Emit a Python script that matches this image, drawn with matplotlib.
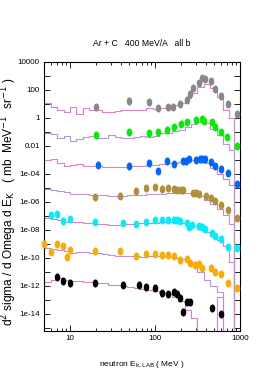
import numpy as np
import matplotlib
matplotlib.use('Agg')
import matplotlib.pyplot as plt
from matplotlib import font_manager
from matplotlib.markers import MarkerStyle
from matplotlib.transforms import Affine2D
from matplotlib.ticker import FixedLocator, NullFormatter, FuncFormatter

# histogram bin edges (MeV), shared by all model curves
edges = [4.5, 5.96, 7.08, 8.41, 10.0, 11.9, 14.1, 16.8, 20.0, 23.7, 28.2, 33.5,
         39.8, 47.3, 56.2, 66.8, 79.4, 94.4, 112, 133, 158, 188, 224, 266, 316,
         376, 447, 531, 631, 750, 860]

# data points (energy MeV, cross section)
gray_e = [20, 50, 85, 109, 141, 164, 199, 236, 258, 278, 330, 357, 391, 459, 508, 597, 716, 930]
gray_y = [6.4, 16, 13, 5.5, 5.8, 5.8, 10.5, 19, 49, 131, 300, 690, 610, 440, 118, 35, 9.5, 2.0]
gray_hist = [10.9, 6.6, 3.7, 2.9, 6.1, 1.9, 4.8, 3.7, 3.7, 2.5, 2.5, 3.2, 3.7, 4.0, 3.7,
             4.0, 4.8, 4.4, 5.2, 6.1, 7.8, 11.8, 27, 61, 151, 268, 139, 32, 3.7, 1.0]

green_e = [20, 50, 84, 109, 140, 167, 200, 236, 304, 354, 377, 464, 508, 598, 709, 914]
green_y = [0.061, 0.10, 0.089, 0.10, 0.128, 0.24, 0.355, 0.54, 0.72, 0.81, 0.64, 0.49,
           0.24, 0.105, 0.046, 0.0105]
green_hist = [0.081, 0.072, 0.040, 0.052, 0.023, 0.032, 0.044, 0.048, 0.037, 0.037, 0.061,
              0.044, 0.037, 0.040, 0.044, 0.048, 0.046, 0.048, 0.081, 0.085, 0.118, 0.139,
              0.23, 0.37, 0.52, 0.44, 0.16, 0.061, 0.0139, 0.0052]

blue_e = [21.5, 50, 84, 109, 140, 166, 215, 232, 253, 306, 336, 357, 387, 459, 504, 598, 713, 914]
blue_y = [4.6e-4, 3.7e-4, 5.8e-4, 1.64e-4, 8.5e-4, 5.4e-4, 8.5e-4, 8.5e-4, 1.22e-3, 9.5e-4,
          1.12e-3, 1.12e-3, 1.12e-3, 7.2e-4, 3.7e-4, 2.3e-4, 1.18e-4, 1.93e-5]
blue_hist = [1.0e-3, 1.09e-3, 6.1e-4, 4.0e-4, 4.4e-4, 5.2e-4, 4.0e-4, 3.7e-4, 3.7e-4, 3.2e-4,
             3.2e-4, 3.4e-4, 3.4e-4, 3.7e-4, 3.7e-4, 4.0e-4, 4.4e-4, 4.4e-4, 5.2e-4, 5.6e-4,
             6.4e-4, 7.6e-4, 8.5e-4, 9.2e-4, 1.0e-3, 6.1e-4, 2.7e-4, 1.0e-4, 4.4e-5, 1.64e-5]

olive_e = [19.7, 38.8, 59.7, 78.3, 100, 120, 141, 168, 184, 201, 215, 280, 306, 332, 393,
           459, 508, 594, 713, 929]
olive_y = [2.3e-6, 2.7e-6, 6.4e-6, 9.5e-6, 1.09e-5, 8.2e-6, 9.5e-6, 8.1e-6, 7.2e-6, 7.2e-6,
           7.6e-6, 4.4e-6, 4.2e-6, 3.7e-6, 2.7e-6, 2.0e-6, 1.14e-6, 6.4e-7, 2.7e-7, 7.6e-8]
olive_hist = [7.8e-6, 6.6e-6, 5.6e-6, 4.8e-6, 4.0e-6, 3.7e-6, 3.7e-6, 3.4e-6, 3.2e-6, 2.9e-6,
              2.7e-6, 2.5e-6, 2.7e-6, 2.9e-6, 3.2e-6, 3.4e-6, 3.7e-6, 3.7e-6, 4.0e-6, 4.4e-6,
              4.6e-6, 4.6e-6, 4.2e-6, 3.7e-6, 2.5e-6, 1.39e-6, 6.6e-7, 3.2e-7, 1.18e-7, 2.7e-8]

cyan_e = [5.93, 6.98, 8.34, 9.9, 19.7, 42.4, 59.7, 77.8, 100, 120, 141, 168, 180, 197, 235,
          253, 270, 332, 354, 387, 464, 508, 598, 713, 914]
cyan_y = [1.12e-7, 1.35e-7, 4.4e-8, 5.8e-8, 3.7e-8, 3.3e-8, 2.8e-8, 3.6e-8, 4.9e-8, 5.2e-8,
          4.9e-8, 5.2e-8, 5.4e-8, 4.2e-8, 3.0e-8, 1.72e-8, 2.3e-8, 1.93e-8, 1.56e-8, 1.12e-8,
          6.4e-9, 4.0e-9, 2.2e-9, 5.6e-10, 4.9e-10]
cyan_hist = [6.9e-8, 6.3e-8, 4.8e-8, 4.0e-8, 3.7e-8, 3.4e-8, 3.3e-8, 2.9e-8, 2.7e-8, 2.5e-8,
             2.3e-8, 2.3e-8, 2.5e-8, 2.7e-8, 2.9e-8, 3.2e-8, 3.2e-8, 2.9e-8, 3.7e-8, 3.9e-8,
             3.7e-8, 3.2e-8, 2.5e-8, 1.78e-8, 1.09e-8, 6.6e-9, 3.7e-9, 1.93e-9, 7.2e-10, 5.2e-11]

orange_e = [5.0, 5.93, 6.98, 8.34, 9.15, 10, 19.7, 38.8, 59.7, 78.3, 100, 120, 141, 168, 197,
            235, 258, 292, 332, 357, 462, 508, 598, 713, 914]
orange_y = [9.5e-10, 2.5e-10, 1.0e-9, 7.2e-10, 1.18e-10, 3.5e-10, 3.3e-10, 2.9e-10, 1.39e-10,
            1.93e-10, 1.84e-10, 1.64e-10, 1.64e-10, 1.39e-10, 7.2e-11, 8.9e-11, 4.0e-11, 2.9e-11,
            3.5e-11, 2.0e-11, 1.84e-11, 1.0e-11, 6.9e-12, 1.56e-12, 6.9e-13]
orange_hist = [4.9e-10, 4.4e-10, 3.7e-10, 2.9e-10, 2.4e-10, 2.5e-10, 2.7e-10, 2.4e-10, 2.1e-10,
               1.93e-10, 1.64e-10, 1.39e-10, 1.39e-10, 1.39e-10, 1.28e-10, 1.24e-10, 1.39e-10,
               1.39e-10, 1.39e-10, 1.18e-10, 1.0e-10, 8.1e-11, 6.1e-11, 3.2e-11, 1.0e-11,
               2.7e-12, 1.0e-12, 3.7e-13, 0, 0]

black_e = [7.1, 8.34, 9.9, 19.7, 42.4, 65.3, 77.8, 100, 120, 141, 167, 180, 197, 215, 235, 258, 464, 598]
black_y = [4.2e-12, 2.3e-12, 1.64e-12, 1.72e-12, 1.18e-12, 1.18e-12, 8.9e-13, 6.9e-13, 3.0e-13,
           2.8e-13, 3.4e-13, 2.5e-13, 1.28e-13, 1.46e-14, 7.6e-14, 7.6e-14, 2.7e-14, 1.0e-14]
black_hist = [2.0e-12, 2.7e-12, 3.4e-12, 2.5e-12, 2.3e-12, 2.1e-12, 1.93e-12, 1.78e-12, 1.64e-12,
              1.51e-12, 1.18e-12, 1.09e-12, 9.2e-13, 8.1e-13, 7.2e-13, 6.1e-13, 5.2e-13, 4.4e-13,
              3.2e-13, 2.5e-13, 1.64e-13, 8.5e-14, 1.93e-14, 5.2e-15, 0, 0, 0, 1.64e-13, 0, 0]

PINK = '#d884c8'
LAVENDER = '#b895d8'
series = [
    (gray_e, gray_y, gray_hist, '#888888', PINK),
    (green_e, green_y, green_hist, '#00ee00', LAVENDER),
    (blue_e, blue_y, blue_hist, '#0066ff', PINK),
    (olive_e, olive_y, olive_hist, '#b08e3a', LAVENDER),
    (cyan_e, cyan_y, cyan_hist, '#00eeff', PINK),
    (orange_e, orange_y, orange_hist, '#ffaa00', LAVENDER),
    (black_e, black_y, black_hist, '#000000', PINK),
]

# narrow font if there is one, else plain Liberation Sans at a smaller size
installed = {f.name for f in font_manager.fontManager.ttflist}
if 'Liberation Sans Narrow' in installed:
    narrow, tsize = 'Liberation Sans Narrow', 7
else:
    narrow, tsize = 'Liberation Sans', 5.8
plt.rcParams['font.family'] = [narrow, 'DejaVu Sans']

fig = plt.figure(figsize=(2.66, 3.73), dpi=100)
ax = fig.add_axes([44 / 266, 1 - 331 / 373, 196 / 266, 269 / 373])

ell = MarkerStyle('o', transform=Affine2D().scale(0.62, 1.0))

for e, y, h, mcol, lcol in series:
    h = np.array(h, dtype=float)
    h = np.where(h > 0, h, 1e-30)
    ax.step(edges, np.append(h, 1e-30), where='post', color=lcol, lw=0.8)
    ax.plot(e, y, linestyle='none', marker=ell, ms=4.8, color=mcol, mec=mcol,
            clip_on=False, zorder=3)

ax.set_xscale('log')
ax.set_yscale('log')
ax.set_xlim(4.95, 1000)
ax.set_ylim(6e-16, 1e4)

ylabels = {4: '10000', 2: '100', 0: '1', -2: '0.01', -4: '1e-04', -6: '1e-06',
           -8: '1e-08', -10: '1e-10', -12: '1e-12', -14: '1e-14'}
ax.yaxis.set_major_locator(FixedLocator([10.0 ** k for k in ylabels]))
ax.yaxis.set_major_formatter(FuncFormatter(
    lambda v, p: ylabels.get(int(round(np.log10(v))), '')))
ax.yaxis.set_minor_locator(FixedLocator([10.0 ** k for k in range(-15, 4, 2)]))
ax.yaxis.set_minor_formatter(NullFormatter())
ax.xaxis.set_major_formatter(FuncFormatter(lambda v, p: '%d' % v))
ax.xaxis.set_minor_formatter(NullFormatter())

ax.tick_params(which='both', direction='in', top=True, right=True, labelsize=tsize,
               width=0.6, pad=3)
ax.tick_params(which='major', length=4)
ax.tick_params(which='minor', length=2.5)
ax.tick_params(axis='y', which='minor', length=4)
for s in ax.spines.values():
    s.set_linewidth(0.8)

fig.text(142 / 266, 1 - 43 / 373, 'Ar + C   400 MeV/A   all b', ha='center', va='center',
         fontsize=tsize + 0.4)
fig.text(142 / 266, 1 - 365 / 373, 'neutron E$_{\\rm k,LAB}$ ( MeV )', ha='center', va='center',
         fontsize=tsize + 0.2)
fig.text(9 / 266, 1 - 202 / 373,
         'd$^2$ sigma / d Omega d E$_{\\rm K}$   ( mb  MeV$^{-1}$  sr$^{-1}$ )',
         rotation=90, ha='center', va='center', fontsize=8.6, family='Liberation Sans')

fig.savefig('out.png', dpi=100)
